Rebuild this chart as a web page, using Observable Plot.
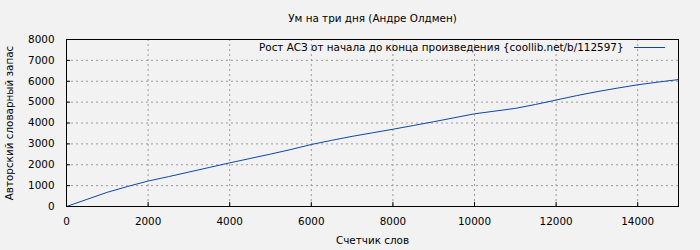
<!DOCTYPE html>
<html>
<head>
<meta charset="utf-8">
<script src="https://cdn.jsdelivr.net/npm/d3@7"></script>
<script src="https://cdn.jsdelivr.net/npm/@observablehq/plot@0.6"></script>
<style>
  html, body { margin: 0; padding: 0; background: #f2f2f2; }
</style>
</head>
<body>
<div id="chart"></div>
<script>
const title = "Ум на три дня (Андре Олдмен)";
const xLabel = "Счетчик слов";
const yLabel = "Авторский словарный запас";
const legendLabel = "Рост АСЗ от начала до конца произведения {coollib.net/b/112597}";

const words = [0, 500, 1000, 1500, 2000, 2500, 3000, 3500, 4000, 4500, 5000, 5500, 6000, 6500, 7000, 7500, 8000, 8500, 9000, 9500, 10000, 10500, 11000, 11500, 12000, 12500, 13000, 13500, 14000, 14500, 15000];
const vocab = [0, 340, 680, 960, 1220, 1430, 1650, 1870, 2090, 2300, 2510, 2730, 2970, 3170, 3360, 3530, 3700, 3880, 4060, 4250, 4440, 4570, 4700, 4890, 5100, 5310, 5500, 5670, 5830, 5960, 6080];

const xTicks = [0, 2000, 4000, 6000, 8000, 10000, 12000, 14000];
const yTicks = [0, 1000, 2000, 3000, 4000, 5000, 6000, 7000, 8000];
const xGrid = [2000, 4000, 6000, 8000, 10000, 12000, 14000];
const yGrid = [1000, 2000, 3000, 4000, 5000, 6000, 7000];

const data = words.map((w, i) => ({words: w, vocab: vocab[i]}));

const W = 700, H = 250, mL = 66, mR = 22, mT = 39, mB = 44;
const lineColor = "#0b47a8";
const gridColor = "#9a9a9a";
const fs = 10.4;

const chart = Plot.plot({
  width: W, height: H,
  marginLeft: mL, marginRight: mR, marginTop: mT, marginBottom: mB,
  style: {background: "#f2f2f2", fontFamily: "DejaVu Sans", fontSize: fs + "px", color: "black"},
  x: {domain: [0, 15000]},
  y: {domain: [0, 8000]},
  marks: [
    Plot.gridX(xGrid, {stroke: gridColor, strokeOpacity: 1, strokeDasharray: "2,3"}),
    Plot.gridY(yGrid, {stroke: gridColor, strokeOpacity: 1, strokeDasharray: "2,3"}),
    Plot.axisX(xTicks, {tickSize: 0, tickPadding: 11, tickFormat: d => String(d), label: null, fontSize: fs}),
    Plot.axisY(yTicks, {tickSize: 0, tickPadding: 12, tickFormat: d => String(d), label: null, fontSize: fs}),
    Plot.tickX(xTicks, {x: d => d, insetTop: H - mT - mB - 4, stroke: "black"}),
    Plot.tickY(yTicks, {y: d => d, insetRight: W - mL - mR - 4, stroke: "black"}),
    Plot.line(data, {x: "words", y: "vocab", stroke: lineColor, strokeWidth: 1}),
    Plot.frame({stroke: "black"}),
    Plot.text([title], {frameAnchor: "top", dy: -21, lineAnchor: "middle", textAnchor: "middle", fontSize: fs}),
    Plot.text([xLabel], {frameAnchor: "bottom", dy: 34, lineAnchor: "middle", textAnchor: "middle", fontSize: fs}),
    Plot.text([yLabel], {frameAnchor: "left", dx: -57, rotate: -90, lineAnchor: "middle", textAnchor: "middle", fontSize: fs}),
    Plot.text([legendLabel], {frameAnchor: "top-right", dx: -55, dy: 8, textAnchor: "end", lineAnchor: "middle", fontSize: fs})
  ]
});

// legend sample line
d3.select(chart).append("line")
  .attr("x1", W - mR - 44).attr("x2", W - mR - 13)
  .attr("y1", mT + 8.5).attr("y2", mT + 8.5)
  .attr("stroke", lineColor).attr("stroke-width", 1);

document.getElementById("chart").appendChild(chart);
</script>
</body>
</html>
